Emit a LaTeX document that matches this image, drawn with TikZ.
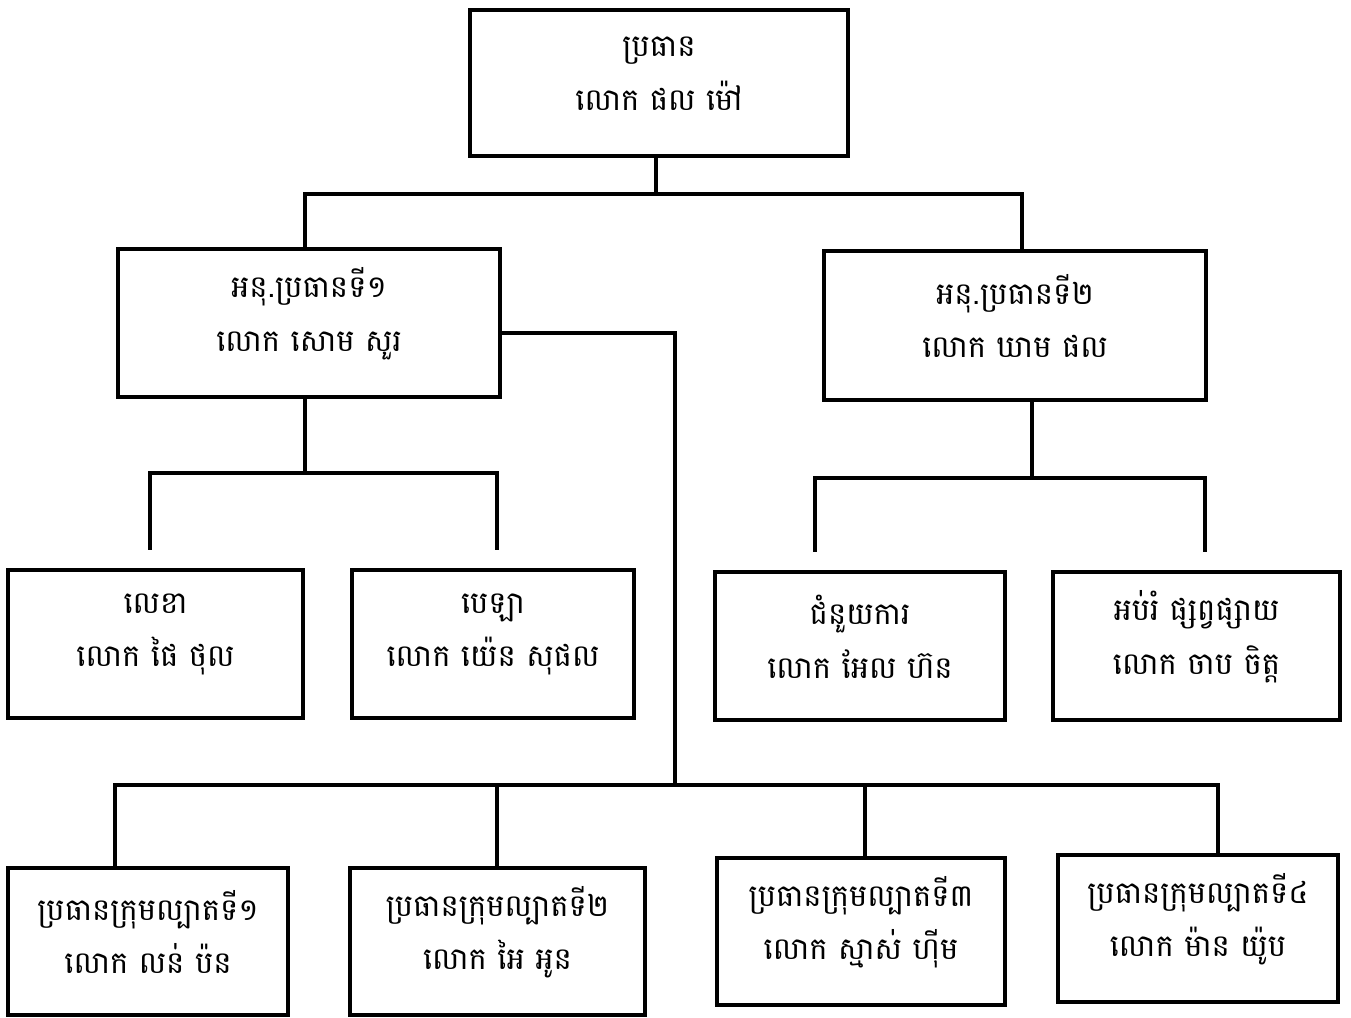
\documentclass[tikz,border=0pt]{standalone}
\usepackage{fontspec}
\newfontfamily\khmer[Script=Khmer]{Battambang}
\begin{document}
\begin{tikzpicture}[x=0.75pt,y=-0.75pt,
  box/.style={draw=black, line width=2.6pt, rectangle, inner sep=0pt, fill=white},
  txt/.style={align=center, inner sep=0pt, font=\khmer\fontsize{23}{40}\selectfont},
  conn/.style={draw=black, line width=2.4pt, line cap=rect}]
\useasboundingbox (0,0) rectangle (1351,1017);
\fill[white] (0,0) rectangle (1351,1017);
% boxes
\node[box, minimum width=283.5pt, minimum height=109.5pt] (top) at (659,83) {};
\node[box, minimum width=286.5pt, minimum height=111pt] (vp1) at (309,323) {};
\node[box, minimum width=286.5pt, minimum height=111.75pt] (vp2) at (1015,325.5) {};
\node[box, minimum width=221.25pt, minimum height=111pt] (sec) at (155.5,644) {};
\node[box, minimum width=211.5pt, minimum height=111pt] (cash) at (493,644) {};
\node[box, minimum width=217.5pt, minimum height=111pt] (asst) at (860,646) {};
\node[box, minimum width=215.25pt, minimum height=111pt] (edu) at (1196.5,646) {};
\node[box, minimum width=210pt, minimum height=110.25pt] (b1) at (148,941.5) {};
\node[box, minimum width=221.25pt, minimum height=110.25pt] (b2) at (497.5,941.5) {};
\node[box, minimum width=216pt, minimum height=110.25pt] (b3) at (861,931.5) {};
\node[box, minimum width=210pt, minimum height=110.25pt] (b4) at (1198,928.5) {};
% texts
\node[txt] (topt) at ([yshift=7pt]top.center) {ប្រធាន\\លោក ផល ម៉ៅ};
\node[txt] (vp1t) at ([yshift=7pt]vp1.center) {អនុ.ប្រធានទី១\\លោក សោម សួរ};
\node[txt] (vp2t) at ([yshift=7pt]vp2.center) {អនុ.ប្រធានទី២\\លោក ឃាម ផល};
\node[txt] (sect) at ([yshift=7pt]sec.center) {លេខា\\លោក ផៃ ថុល};
\node[txt] (casht) at ([yshift=7pt]cash.center) {បេឡា\\លោក យ៉េន សុផល};
\node[txt] (asstt) at ([yshift=7pt]asst.center) {ជំនួយការ\\លោក អែល ហ៊ន};
\node[txt] (edut) at ([yshift=7pt]edu.center) {អប់រំ ផ្សព្វផ្សាយ\\លោក ចាប ចិត្ត};
\node[txt] (b1t) at ([yshift=7pt]b1.center) {ប្រធានក្រុមល្បាតទី១\\លោក លន់ ប៉ន};
\node[txt] (b2t) at ([yshift=7pt]b2.center) {ប្រធានក្រុមល្បាតទី២\\លោក អៃ អូន};
\node[txt] (b3t) at ([yshift=7pt]b3.center) {ប្រធានក្រុមល្បាតទី៣\\លោក ស្មាស់ ហ៊ីម};
\node[txt] (b4t) at ([yshift=7pt]b4.center) {ប្រធានក្រុមល្បាតទី៤\\លោក ម៉ាន យ៉ូប};
% junction coordinates
\coordinate (j0) at (656,194);
\coordinate (jl) at (305,194);
\coordinate (jr) at (1022,194);
\coordinate (jm) at (675,333);
\coordinate (jb) at (675,785);
\coordinate (jb1) at (115,785);
\coordinate (jb2) at (497,785);
\coordinate (jb3) at (865,785);
\coordinate (jb4) at (1218,785);
\coordinate (jv1) at (305,473);
\coordinate (jv1a) at (150,473);
\coordinate (jv1b) at (497,473);
\coordinate (e1a) at (150,548);
\coordinate (e1b) at (497,548);
\coordinate (jv2) at (1032,478);
\coordinate (jv2a) at (815,478);
\coordinate (jv2b) at (1205,478);
\coordinate (e2a) at (815,550);
\coordinate (e2b) at (1205,550);
% connectors
\draw[conn] (top.south -| j0) -- (j0);
\draw[conn] (jl) -- (jr);
\draw[conn] (jl) -- (vp1.north -| jl);
\draw[conn] (jr) -- (vp2.north -| jr);
\draw[conn] (vp1.east |- jm) -- (jm) -- (jb);
\draw[conn] (jb1) -- (jb4);
\draw[conn] (jb1) -- (b1.north -| jb1);
\draw[conn] (jb2) -- (b2.north -| jb2);
\draw[conn] (jb3) -- (b3.north -| jb3);
\draw[conn] (jb4) -- (b4.north -| jb4);
\draw[conn] (vp1.south -| jv1) -- (jv1);
\draw[conn] (e1a) -- (jv1a) -- (jv1b) -- (e1b);
\draw[conn] (vp2.south -| jv2) -- (jv2);
\draw[conn] (e2a) -- (jv2a) -- (jv2b) -- (e2b);
\end{tikzpicture}
\end{document}
